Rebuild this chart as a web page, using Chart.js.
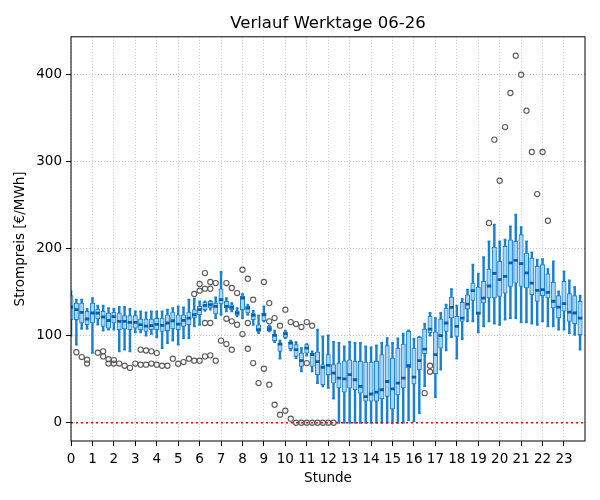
<!DOCTYPE html>
<html>
<head>
<meta charset="utf-8">
<script src="https://cdn.jsdelivr.net/npm/chart.js@4.4.1/dist/chart.umd.min.js"></script>
<style>
  html, body { margin: 0; padding: 0; background: #fff; }
</style>
</head>
<body>
<canvas id="boxChart" width="600" height="500"></canvas>
<script>
// tick labels
const hourTicks = [0, 1, 2, 3, 4, 5, 6, 7, 8, 9, 10, 11, 12, 13, 14, 15, 16, 17, 18, 19, 20, 21, 22, 23];
const priceTicks = [0, 100, 200, 300, 400];
const slotsPerHour = 4; // 15-minute slots, 96 per day

// box statistics per slot (EUR/MWh), one row = one hour
const whiskerLow = [
    100, 89.7, 108, 108,   80.2, 112.7, 106, 106.9,   107, 82, 84, 82,   104, 104, 100, 102,
    98, 85.8, 91.6, 94.3,   89.7, 97.3, 97.3, 110.7,   112.6, 128.7, 130, 120.3,   124.1, 128, 128, 122.2,
    120.3, 124.1, 112.6, 102.9,   116.5, 105, 92.7, 73.6,   97.3, 83.1, 74.3, 59,   77, 59, 45.6, 41.8,
    40, 27.6, 0, 0,   0, 0, 0, 0,   0, 0, 0, 0,   0, 0, 0, 3,
    1.5, 11, 42, 100,   29.5, 61, 83.1, 98.5,   73.6, 96.2, 116.5, 116.5,   103.8, 110.7, 116.5, 113.8,
    112.6, 118.4, 120.3, 120.3,   115.4, 115.4, 113.8, 112.6,   116.4, 110.7, 110.7, 106.9,   106.9, 103, 101.1, 83.9
];
const quartile1 = [
    118, 118.4, 114.6, 112.7,   114.6, 119.2, 110.7, 108.8,   114.6, 106.9, 107.7, 106.9,   108.8, 106.9, 105, 106.9,
    107, 104.9, 105.7, 108,   106.9, 110.7, 112.6, 120.3,   124.1, 129.9, 131.8, 124.9,   136.4, 131.8, 129.9, 123.4,
    129.9, 126.1, 118.4, 104.9,   117.2, 105.7, 94.3, 82,   98, 85, 76.2, 64.7,   80, 64.7, 55.2, 43.7,
    55.2, 45.6, 39.9, 35.2,   39.8, 37.9, 34.1, 24.9,   24.9, 24.9, 27.6, 30.3,   16, 32, 40, 63,
    44.5, 61, 79.3, 103.5,   56.3, 85.8, 104.9, 120.3,   99.2, 116.5, 130.7, 140.6,   124.5, 137.6, 143.3, 143.3,
    145.1, 149, 156.7, 160.5,   156.7, 154.8, 147.1, 139.5,   146, 143.3, 131.8, 120.3,   128.1, 116.4, 113.7, 101.1
];
const median = [
    133, 129.9, 126.8, 119.2,   126.1, 126, 121.5, 117.5,   122, 116.5, 116.5, 115.4,   115.4, 112.7, 111, 111.5,
    113, 111.9, 114.6, 117.2,   113.4, 117.7, 120.3, 124.1,   129.9, 134.9, 135.6, 133.7,   141.4, 133.7, 132.6, 126.1,
    143.3, 131.8, 123.4, 106.9,   124.1, 108, 100.3, 90.4,   102.2, 91.6, 83.9, 71.3,   85.8, 78.2, 70.3, 63.6,
    65.9, 57, 51.3, 50.5,   55.2, 49.4, 41.7, 30,   33, 35.2, 37.9, 47.4,   39, 45.6, 51.3, 65.5,
    52.5, 71.3, 84.6, 107.5,   78.2, 100, 114.6, 132.6,   110.7, 120.3, 136.4, 151.7,   126, 143.3, 157.1, 171.6,
    164.4, 168.2, 183.6, 186.6,   182.8, 172.1, 160.5, 152.1,   152.9, 149.9, 139.6, 132.9,   136.8, 127.1, 126.1, 120.3
];
const quartile3 = [
    146, 137.5, 137.5, 128,   137.5, 130.7, 128, 126.1,   127, 126.1, 123, 123,   123, 119.2, 119.2, 119.2,
    120, 120.3, 124.1, 127.2,   124.1, 124.1, 127.2, 129.9,   133.7, 138.3, 139.5, 137.5,   154, 139.5, 135.6, 128.7,
    145.2, 133.7, 126.1, 112.6,   126.1, 110.7, 101.8, 91.6,   104.1, 92.7, 89.7, 80,   89.7, 80, 81.2, 66.7,
    78.2, 66.7, 68.5, 71.2,   72.3, 70.5, 70.5, 69.7,   69.7, 70.5, 78.2, 88.7,   74.3, 85.8, 90.4, 104.9,
    85.8, 98, 107.5, 122.2,   104.6, 119.2, 131.8, 144.5,   122.2, 138.3, 147.1, 160.5,   155.9, 162.5, 176.6, 201.9,
    185.4, 202.6, 210.3, 208.4,   216.1, 195, 189.3, 179.7,   181.6, 171, 161.3, 146,   162.6, 148.3, 146, 139.5
];
const whiskerHigh = [
    151, 141.4, 141.4, 130.7,   143.3, 134.5, 134.5, 131.8,   130.7, 133, 133, 130.7,   128, 128, 126.8, 128,
    128, 128, 129.9, 131.8,   133.7, 132.6, 141.4, 143,   139.5, 139.5, 140, 144.1,   173.2, 143.3, 137.5, 131.8,
    147.9, 135.6, 128.7, 123.4,   133.7, 111.5, 105.7, 94.3,   105.7, 94.3, 92.7, 85.8,   90.4, 82, 106.9, 99.2,
    100.4, 92.8, 91.6, 87.7,   92.8, 91.6, 91.6, 87.7,   86.6, 88.9, 91.6, 97.3,   91.6, 97, 102.3, 106.1,
    96.2, 98.5, 114, 126.1,   120.3, 126.1, 135.6, 153.6,   134.5, 142.2, 152.9, 181.6,   171.3, 190.4, 208.4, 227.6,
    208.4, 210.3, 225.6, 239,   224.8, 208.4, 195.8, 187.4,   188.1, 176.6, 185.4, 151,   173.9, 163.6, 155.9, 146
];

// outliers: slot index and price
const outlierSlot = [
    1, 2, 3, 3, 5, 6, 6, 7, 7, 8, 8, 9, 10, 11, 12, 13, 13, 14, 14, 15, 15, 16, 16, 17, 18, 19, 20, 21, 22,
    23, 23, 24, 24, 24, 25, 25, 25, 25, 26, 26, 26, 26, 27, 27, 28, 29, 29, 29, 30, 30, 30, 31, 31,
    32, 32, 33, 33, 33, 34, 34, 35, 36, 36, 37, 37, 37, 38, 38, 39, 39, 40, 40, 41, 41, 42, 42, 43, 43,
    44, 44, 44, 45, 45, 46, 47, 48, 49, 66, 67, 67,
    78, 79, 80, 81, 82, 83, 84, 85, 86, 87, 88, 89
];
const outlierPrice = [
    81, 75.5, 72.4, 68, 80.5, 82, 76.2, 73, 68, 72, 68, 68, 65.5, 63, 68, 84, 66.7, 83, 66.7, 82, 68, 80, 66.7, 65.5, 65.5, 73.6, 67.8, 69.7, 73.6,
    71.3, 148, 71.3, 159.4, 151.7, 172, 154, 114.6, 76.2, 161.7, 154, 114.6, 77.4, 160.5, 71.3, 94.3, 160.5, 119.5, 90.4, 154.8, 116.5, 83.9, 149, 112.6,
    175.8, 101.9, 165.5, 114.6, 85, 141.4, 68.5, 45.6, 161.7, 62, 137.5, 116.5, 43.7, 120.3, 20.7, 111.5, 9.2, 129.9, 13.8, 115.7, 4.6, 113.4, 0, 110, 0,
    115.7, 68.5, 0, 111.5, 0, 0, 0, 0, 0, 34, 65.5, 58.5,
    229.5, 325.3, 278.1, 339.8, 378.9, 421.8, 399.9, 358.6, 311.1, 262.8, 311.1, 232.1
];

const referencePrice = 0;

const edgeBlue = '#1a80d2';
const fillBlue = '#a6d5f6';
const medianBlue = '#0b5fa5';
const gridColor = 'rgba(170,170,170,0.8)';
const font = { family: 'DejaVu Sans', size: 13.5 };

const slotX = i => i / slotsPerHour;
const whiskers = whiskerLow.map((lo, i) => ({ x: slotX(i), y: [lo, whiskerHigh[i]] }));
const boxes = quartile1.map((q1, i) => ({ x: slotX(i), y: [q1, quartile3[i]] }));
const medians = median.map((m, i) => ({ x: slotX(i), y: m }));
const caps = whiskerLow.map((lo, i) => ({ x: slotX(i), y: lo }))
    .concat(whiskerHigh.map((hi, i) => ({ x: slotX(i), y: hi })));
const fliers = outlierSlot.map((s, i) => ({ x: slotX(s), y: outlierPrice[i] }));

const framePlugin = {
    id: 'frame',
    afterDraw(chart) {
        const { ctx, chartArea: a } = chart;
        ctx.save();
        ctx.strokeStyle = '#000';
        ctx.lineWidth = 1;
        ctx.strokeRect(a.left, a.top, a.right - a.left, a.bottom - a.top);
        ctx.restore();
    }
};

let boxChart = new Chart(document.getElementById('boxChart'), {
    type: 'bar',
    data: {
        datasets: [
            {
                label: 'Whisker',
                data: whiskers,
                backgroundColor: edgeBlue,
                borderWidth: 0,
                barThickness: 1.8,
                grouped: false,
                clip: 0,
                order: 5
            },
            {
                label: 'Box',
                data: boxes,
                backgroundColor: fillBlue,
                borderColor: edgeBlue,
                borderWidth: 1,
                borderSkipped: false,
                barThickness: 4.4,
                grouped: false,
                clip: 0,
                order: 4
            },
            {
                type: 'scatter',
                label: 'Kappe',
                data: caps,
                pointStyle: 'line',
                pointRadius: 1.3,
                borderColor: edgeBlue,
                borderWidth: 1.8,
                clip: 0,
                order: 3
            },
            {
                type: 'scatter',
                label: 'Median',
                data: medians,
                pointStyle: 'line',
                pointRadius: 2.2,
                borderColor: medianBlue,
                borderWidth: 2.8,
                clip: 0,
                order: 2
            },
            {
                type: 'scatter',
                label: 'Ausreißer',
                data: fliers,
                pointStyle: 'circle',
                pointRadius: 2.6,
                backgroundColor: 'rgba(0,0,0,0)',
                borderColor: '#5a5a5a',
                borderWidth: 1.1,
                clip: 0,
                order: 1
            },
            {
                type: 'line',
                label: '0',
                data: [{ x: 0, y: referencePrice }, { x: 24, y: referencePrice }],
                borderColor: '#ff0000',
                borderWidth: 1.6,
                borderDash: [2, 3],
                pointRadius: 0,
                clip: 0,
                order: 0
            }
        ]
    },
    options: {
        responsive: false,
        animation: false,
        events: [],
        layout: { padding: { left: 0, right: 15, top: 0, bottom: 0 } },
        plugins: {
            legend: { display: false },
            tooltip: { enabled: false },
            title: {
                display: true,
                fullSize: false,
                text: 'Verlauf Werktage 06-26',
                color: '#000',
                font: { family: 'DejaVu Sans', size: 16.5, weight: 'normal' },
                padding: { top: 14, bottom: 3 }
            }
        },
        scales: {
            x: {
                type: 'linear',
                min: 0,
                max: 23.98,
                offset: false,
                afterBuildTicks: s => { s.ticks = hourTicks.map(v => ({ value: v })); },
                afterFit: s => { s.height = 59; },
                ticks: { autoSkip: false, maxRotation: 0, padding: 5, color: '#000', font: font },
                grid: { offset: false, color: gridColor, lineWidth: 0.8, tickColor: '#000', tickLength: 5, tickWidth: 1 },
                border: { display: false, dash: [1, 2] },
                title: { display: true, text: 'Stunde', color: '#000', font: font, padding: { top: 0, bottom: 13 } }
            },
            y: {
                min: -21,
                max: 443.5,
                afterBuildTicks: s => { s.ticks = priceTicks.map(v => ({ value: v })); },
                afterFit: s => { s.width = 71; },
                ticks: { padding: 4, color: '#000', font: font },
                grid: { color: gridColor, lineWidth: 0.8, tickColor: '#000', tickLength: 5, tickWidth: 1 },
                border: { display: false, dash: [1, 2] },
                title: { display: true, text: 'Strompreis [€/MWh]', color: '#000', font: font, padding: { top: 12, bottom: 0 } }
            }
        }
    },
    plugins: [framePlugin]
});
</script>
</body>
</html>
